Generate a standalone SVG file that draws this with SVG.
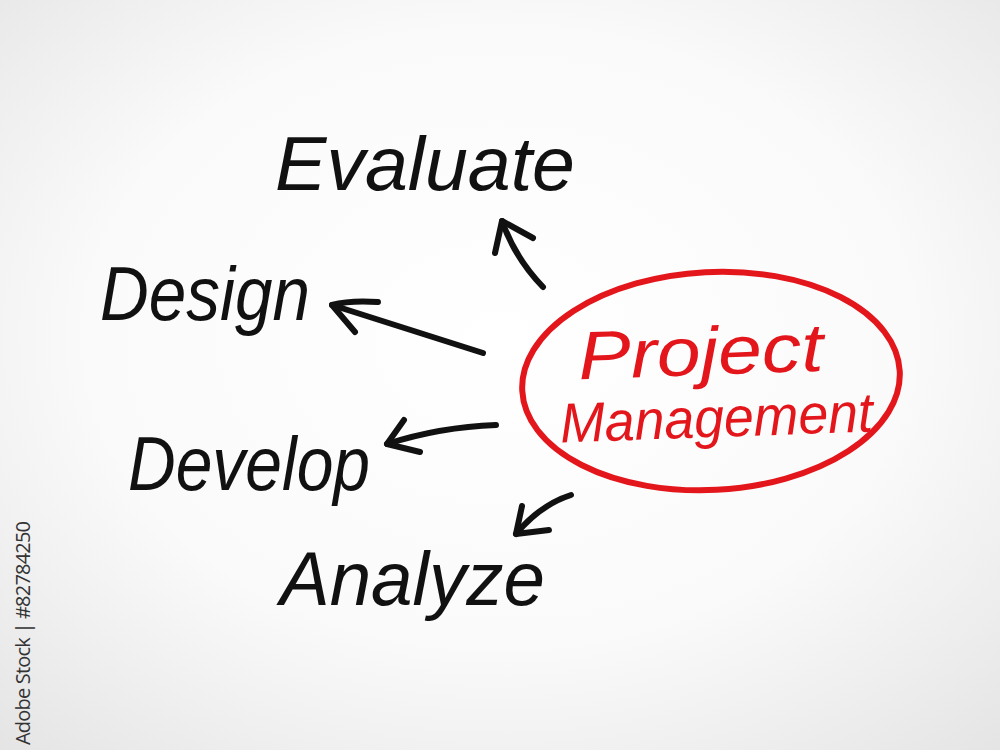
<svg xmlns="http://www.w3.org/2000/svg" width="1000" height="750" viewBox="0 0 1000 750">
  <defs>
    <radialGradient id="bg" cx="50%" cy="45%" r="75%">
      <stop offset="0" stop-color="#ffffff"/>
      <stop offset="0.55" stop-color="#fafafa"/>
      <stop offset="1" stop-color="#e4e4e4"/>
    </radialGradient>
    <style>
      .lbl { font-family: "Liberation Sans", Arial, sans-serif; font-style: italic; fill: #111; }
      .red { font-family: "Liberation Sans", Arial, sans-serif; font-style: italic; fill: #e3161c; }
      .arr { fill: none; stroke: #111; stroke-width: 6; stroke-linecap: round; stroke-linejoin: round; }
      .wm { font-family: "Open Sans", "Liberation Sans", sans-serif; font-size: 20px; fill: #333; }
    </style>
  </defs>
  <rect x="0" y="0" width="1000" height="750" fill="url(#bg)"/>

  <g id="connectors">
    <path class="arr" d="M543,287 Q515,258 502,221"/>
    <path class="arr" d="M495,253 L502,221 L533,238"/>
    <path class="arr" d="M483,353 Q410,330 332,305"/>
    <path class="arr" d="M378,302 Q350,300 332,305 L355,332"/>
    <path class="arr" d="M496,425 Q440,427 387,444"/>
    <path class="arr" d="M404,420 L387,444 L420,452"/>
    <path class="arr" d="M571,495 Q540,505 516,534"/>
    <path class="arr" d="M522,506 L516,534 L549,530"/>
  </g>

  <g id="node-evaluate">
    <text class="lbl" x="275" y="190" font-size="76" textLength="300" lengthAdjust="spacingAndGlyphs">Evaluate</text>
  </g>
  <g id="node-design">
    <text class="lbl" x="100" y="320" font-size="76" textLength="210" lengthAdjust="spacingAndGlyphs">Design</text>
  </g>
  <g id="node-develop">
    <text class="lbl" x="128" y="490" font-size="76" textLength="242" lengthAdjust="spacingAndGlyphs">Develop</text>
  </g>
  <g id="node-analyze">
    <text class="lbl" x="280" y="605" font-size="76" textLength="265" lengthAdjust="spacingAndGlyphs">Analyze</text>
  </g>

  <g id="node-project-management">
    <ellipse cx="711" cy="381" rx="189" ry="109" fill="none" stroke="#e3161c" stroke-width="6" transform="rotate(-3 711 381)"/>
    <text class="red" x="578" y="375" font-size="68" textLength="245" lengthAdjust="spacingAndGlyphs" transform="rotate(-2 700 350)">Project</text>
    <text class="red" x="560" y="437" font-size="56" textLength="313" lengthAdjust="spacingAndGlyphs" transform="rotate(-2 716 420)">Management</text>
  </g>

  <g id="watermark">
    <text class="wm" transform="translate(30,745) rotate(-90)" textLength="224">Adobe Stock | #82784250</text>
  </g>
</svg>
